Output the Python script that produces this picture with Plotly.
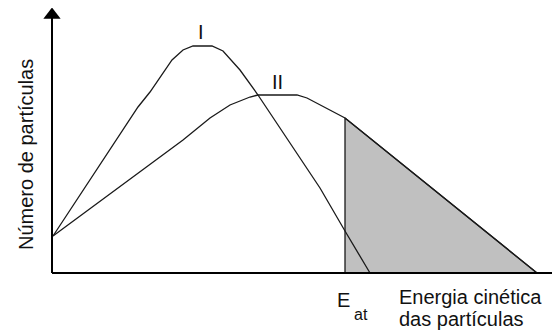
import plotly.graph_objects as go

# pixel-read coordinates, origin at the axes corner (x right, y up)
X0, Y0 = 52, 273  # axes corner in picture pixels
PAGE = 8          # default body margin of the html page

curve_i_x = [1, 48, 86, 98, 120, 131, 141, 160, 171, 188, 206, 238, 268, 293, 318]
curve_i_y = [37, 108, 166, 181, 213, 223, 227, 227, 222, 203, 178, 130, 85, 42, 0]

curve_ii_x = [1, 48, 88, 131, 158, 178, 198, 206, 245, 255, 293, 485]
curve_ii_y = [37, 72, 101, 133, 155, 168, 176, 178, 178, 175, 155, 0]

e_at = 293  # threshold energy position

fill_x = [e_at] + [x for x in curve_ii_x if x >= e_at] + [e_at]
fill_y = [0] + [y for x, y in zip(curve_ii_x, curve_ii_y) if x >= e_at] + [0]

ink = "#1a1a1a"
fig = go.Figure()
fig.add_trace(go.Scatter(x=fill_x, y=fill_y, fill="toself", fillcolor="#c0c0c0",
                         mode="lines", line=dict(color=ink, width=1.3)))
fig.add_trace(go.Scatter(x=curve_i_x, y=curve_i_y, mode="lines",
                         line=dict(color=ink, width=1.3)))
fig.add_trace(go.Scatter(x=curve_ii_x, y=curve_ii_y, mode="lines",
                         line=dict(color=ink, width=1.3)))

# axes with arrowheads
fig.add_trace(go.Scatter(x=[0, 0], y=[0, 255], mode="lines", line=dict(color="black", width=2)))
fig.add_trace(go.Scatter(x=[0, 503], y=[0, 0], mode="lines", line=dict(color="black", width=2)))
fig.add_trace(go.Scatter(x=[0], y=[258], mode="markers",
                         marker=dict(symbol="triangle-up", size=15, color="black")))
fig.add_trace(go.Scatter(x=[505], y=[0], mode="markers",
                         marker=dict(symbol="triangle-right", size=15, color="black")))

font = dict(family="Arial, Liberation Sans, sans-serif", size=20, color="#111")
fig.add_annotation(x=149, y=241, text="I", showarrow=False, font=font)
fig.add_annotation(x=225, y=191, text="II", showarrow=False, font=font)
fig.add_annotation(x=-26, y=118, text="Número de partículas", textangle=-90,
                   showarrow=False, font=font)
fig.add_annotation(x=291, y=-27, text="E", showarrow=False, font=font)
fig.add_annotation(x=309, y=-41, text="at", showarrow=False,
                   font=dict(family=font["family"], size=16, color="#111"))
fig.add_annotation(x=345, y=-24, text="Energia cinética", showarrow=False,
                   xanchor="left", font=font)
fig.add_annotation(x=345, y=-46, text="das partículas", showarrow=False,
                   xanchor="left", font=font)

fig.update_layout(
    width=560 - PAGE, height=331 - PAGE, margin=dict(l=0, r=0, t=0, b=0),
    paper_bgcolor="white", plot_bgcolor="white", showlegend=False,
    xaxis=dict(range=[PAGE - X0, 560 - X0], visible=False, fixedrange=True),
    yaxis=dict(range=[Y0 - 331, Y0 - PAGE], visible=False, fixedrange=True),
)
fig.write_html("out.html")
